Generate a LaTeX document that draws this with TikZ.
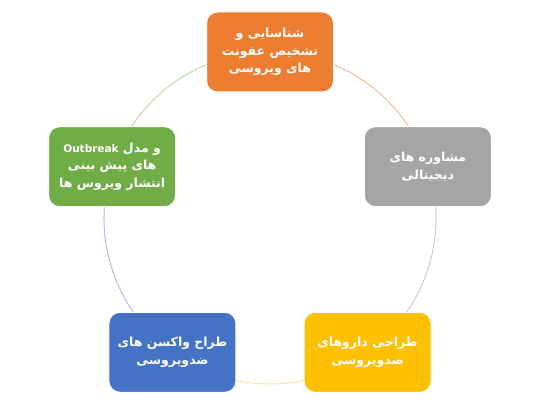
\documentclass[tikz,border=0pt]{standalone}
\usepackage{fontspec}
\TeXXeTstate=1
\newfontfamily\arabicfont[Script=Arabic]{DejaVu Sans}
\definecolor{cOrange}{HTML}{ED7D31}
\definecolor{cGray}{HTML}{A5A5A5}
\definecolor{cYellow}{HTML}{FFC000}
\definecolor{cBlue}{HTML}{4472C4}
\definecolor{cGreen}{HTML}{70AD47}
\newcommand{\rlline}[1]{\beginR #1\endR}
\tikzset{
  stepbox/.style={rectangle, rounded corners=11pt, minimum width=127pt, minimum height=80pt,
    draw=white, line width=1pt, text=white, align=center,
    font=\arabicfont\bfseries\fontsize{12.5}{17.5}\selectfont, inner sep=2pt},
  seg/.style={line width=1pt}
}
\begin{document}
\begin{tikzpicture}[x=1pt,y=1pt]
\useasboundingbox (0,0) rectangle (550,409);
\fill[white] (0,0) rectangle (550,409);
\begin{scope}[shift={(270,191)}]
  \coordinate (c) at (0,0);
  \draw[seg, cOrange!50] (90:166) arc[start angle=90, end angle=18, radius=166pt];
  \draw[seg, cGray!55] (18:166) arc[start angle=18, end angle=-54, radius=166pt];
  \draw[seg, cYellow!40] (-54:166) arc[start angle=-54, end angle=-126, radius=166pt];
  \draw[seg, cBlue!45] (-126:166) arc[start angle=-126, end angle=-198, radius=166pt];
  \draw[seg, cGreen!45] (162:166) arc[start angle=162, end angle=90, radius=166pt];
  \node[stepbox, fill=cOrange] (n1) at (90:166) {\rlline{شناسایی و}\\\rlline{تشخیص عفونت}\\\rlline{های ویروسی}};
  \node[stepbox, fill=cGray] (n2) at (18:166) {\rlline{مشاوره های}\\\rlline{دیجیتالی}};
  \node[stepbox, fill=cYellow] (n3) at (-54:166) {\rlline{طراحی داروهای}\\\rlline{ضدویروسی}};
  \node[stepbox, fill=cBlue] (n4) at (-126:166) {\rlline{طراح واکسن های}\\\rlline{ضدویروسی}};
  \node[stepbox, fill=cGreen] (n5) at (162:166) {\rlline{و مدل \beginL{\fontsize{10.5}{12}\selectfont Outbreak}\endL}\\\rlline{های پیش بینی}\\\rlline{انتشار ویروس ها}};
\end{scope}
\end{tikzpicture}
\end{document}
